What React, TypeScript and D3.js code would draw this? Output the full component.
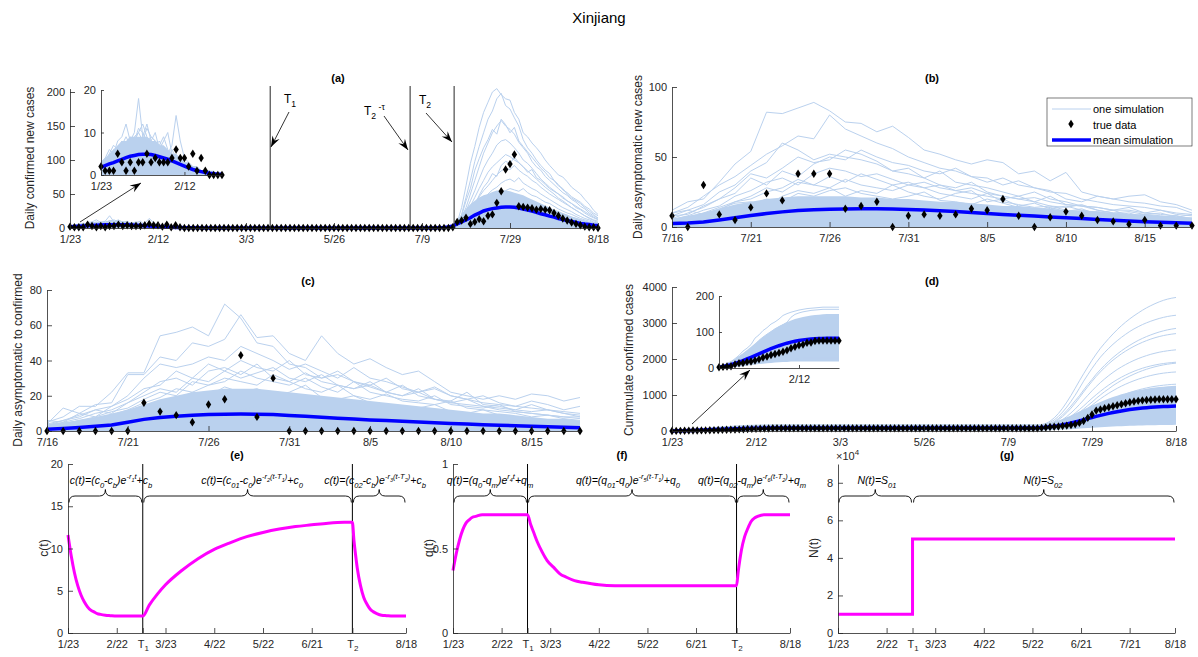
import React, { useEffect, useRef } from "react";
import * as d3 from "d3";

const W = 1198, H = 657;
const FONT = "'Liberation Sans', Arial, Helvetica, sans-serif";
const SIM = "#bad1ee";
const AXC = "#262626";
const MEANC = "#0000ff";
const MAG = "#ff00ff";

// ---------- panel (a)/(d): index axis ----------
const IDX_TICKS = [0, 20, 40, 60, 80, 100, 120];
const IDX_LABELS = ["1/23", "2/12", "3/3", "5/26", "7/9", "7/29", "8/18"];
const INSET_TICKS = [0, 20];
const INSET_A_LABELS = ["1/23", "2/12"];
const INSET_D_LABELS = ["", "2/12"];
const T1_IDX = 45.5, T2TAU_IDX = 77.3, T2_IDX = 87.3;

// quiet period (index 30..83), all values zero
const QUIET = [0,0,0,0,0,0,0,0,0,0,0,0,0,0,0,0,0,0,0,0,0,0,0,0,0,0,0,0,0,0,0,0,0,0,0,0,0,0,0,0,0,0,0,0,0,0,0,0,0,0,0,0,0,0];

const A_TRUE_EARLY = [2,1,1,1,5,3,1,3,1,3,3,5,3,4,3,3,3,4,6,4,4,2,5,1,4,1,0,0,0,0];
const A_TRUE_LATE = [0,0,0,1,9,11,15,6,9,13,10,18,20,37,54,86,94,108,32,31,30,29,27,28,27,26,22,18,14,11,8,6,4,2,1,1,0];
const A_MEAN_EARLY = [1.8,2.2,2.6,2.9,3.3,3.7,4.1,4.4,4.6,4.8,4.9,4.9,4.8,4.6,4.3,4.0,3.7,3.3,2.9,2.5,2.1,1.7,1.3,1.0,0.8,0.6,0.4,0.3,0.2,0.2];
const A_MEAN_LATE = [0.5,0.8,1.5,3,6,9,12,15,19,22,25,27,28.5,29.5,30.5,31,31,30.5,29.5,28,26.5,25,23,21,19.5,17.5,16,14,12.5,11,9.5,8,6.8,5.8,5,4.2,3.6];
const A_BAND_EARLY_UP = [3,4,5,6,7,8,8,9,9,9,9,9,8,8,7,7,6,5,5,4,3,3,2,2,1,1,1,1,0,0];
const A_BAND_EARLY_LO = [0,0,1,1,1,1,1,2,1,2,1,1,1,1,1,1,1,0,1,0,0,0,0,0,0,0,0,0,0,0];
const A_BAND_LATE_UP = [0,0,1,5,12,20,28,35,40,45,48,50,53,55,55,55,54,52,50,48,45,42,39,36,33,30,27,25,22,20,17,15,13,11,9,8,6];
const A_BAND_LATE_LO = [0,0,0,0,1,2,3,4,5,6,6,7,7,8,8,8,8,7,7,7,6,6,6,5,5,4,4,4,3,3,3,2,2,2,2,1,1];

const SIM_EARLY_1 = [3,4,6,5,8,9,12,8,10,18,9,12,8,10,6,8,10,5,4,3,3,2,2,1,1,1,1,0,0,0];
const SIM_EARLY_2 = [2,3,5,7,6,8,7,9,8,10,12,9,8,7,8,6,5,7,14,8,4,3,2,2,1,1,1,0,0,0];
const SIM_EARLY_3 = [2,3,4,5,6,7,6,8,9,10,8,11,9,8,7,6,5,6,4,3,3,2,2,1,1,1,0,0,0,0];
const SIM_EARLY_4 = [1,2,3,4,5,5,7,6,7,8,9,7,6,7,5,6,4,3,3,2,2,1,1,1,0,0,0,0,0,0];
const SIM_EARLY_5 = [1,1,2,3,4,4,5,5,6,5,6,7,5,5,6,4,4,3,3,2,2,1,1,1,0,0,0,0,0,0];
const SIM_EARLY_6 = [1,1,1,2,2,3,3,4,3,4,4,5,4,3,4,3,3,2,2,1,1,1,1,0,0,0,0,0,0,0];
const SIM_EARLY_7 = [0,1,1,1,1,2,1,2,2,2,1,2,2,1,2,1,1,1,1,1,0,1,0,0,0,0,0,0,0,0];
const SIM_EARLY_8 = [2,2,3,3,4,5,4,6,5,7,6,5,6,4,5,4,3,3,2,2,1,1,1,0,0,0,0,0,0,0];
const SIM_EARLY_9 = [1,2,2,3,3,4,5,4,5,6,5,6,5,6,4,4,3,3,2,2,2,1,1,1,0,0,0,0,0,0];
const SIM_EARLY_10 = [2,3,4,6,5,7,9,7,8,11,10,8,9,8,7,9,6,5,4,3,2,2,1,1,1,0,0,0,0,0];
const SIM_EARLY_11 = [1,2,3,3,4,6,5,6,7,6,8,7,6,7,6,5,5,4,3,3,2,1,1,1,1,0,0,0,0,0];

const SIM_LATE_1 = [0,0,0,1,8,30,62,95,120,148,170,185,200,205,196,190,188,170,160,140,134,125,118,110,100,92,85,78,75,68,60,55,50,42,35,26,20];
const SIM_LATE_2 = [0,0,0,2,6,20,45,70,98,120,140,160,172,190,198,180,175,162,150,130,118,110,100,92,85,80,70,62,58,50,44,40,36,30,25,20,14];
const SIM_LATE_3 = [0,0,1,2,5,15,30,50,70,90,110,125,140,150,158,150,145,138,126,118,110,98,90,85,76,70,64,58,52,48,42,38,32,28,22,18,15];
const SIM_LATE_4 = [0,0,0,1,4,12,25,40,55,72,88,100,110,122,128,130,125,118,110,100,95,88,80,72,66,60,55,50,44,40,36,30,27,22,18,15,12];
const SIM_LATE_5 = [0,0,0,1,3,10,20,32,45,58,70,82,90,96,102,108,105,100,96,90,84,78,72,66,60,55,50,44,40,35,30,26,22,18,15,12,10];
const SIM_LATE_6 = [0,0,0,1,3,8,16,26,36,46,55,62,70,78,84,88,86,92,85,80,76,70,66,60,55,50,46,42,38,34,30,26,22,18,14,11,8];
const SIM_LATE_7 = [0,0,0,1,2,6,12,20,28,35,42,50,56,60,66,70,72,68,74,66,62,58,55,50,46,42,38,34,30,27,24,20,17,14,12,9,7];
const SIM_LATE_8 = [0,0,0,1,2,5,10,16,22,28,34,40,44,48,52,55,58,56,54,58,52,48,46,42,38,36,32,28,25,22,20,17,14,12,10,8,6];
const SIM_LATE_9 = [0,0,0,0,1,4,8,12,16,20,24,28,32,35,38,40,42,44,42,40,43,38,36,34,30,28,26,23,20,18,16,14,12,10,8,6,5];
const SIM_LATE_10 = [0,0,0,1,5,18,40,58,85,102,118,130,145,138,160,152,140,148,128,120,112,104,96,88,82,74,70,64,56,52,46,42,38,32,28,22,18];
const SIM_LATE_11 = [0,0,0,0,2,7,15,24,34,48,60,68,80,76,92,98,95,104,96,90,82,86,74,70,64,58,54,50,46,40,36,32,28,24,20,16,13];

const SIM_EARLY = [SIM_EARLY_1, SIM_EARLY_2, SIM_EARLY_3, SIM_EARLY_4, SIM_EARLY_5, SIM_EARLY_6, SIM_EARLY_7, SIM_EARLY_8, SIM_EARLY_9, SIM_EARLY_10, SIM_EARLY_11];
const SIM_LATE = [SIM_LATE_1, SIM_LATE_2, SIM_LATE_3, SIM_LATE_4, SIM_LATE_5, SIM_LATE_6, SIM_LATE_7, SIM_LATE_8, SIM_LATE_9, SIM_LATE_10, SIM_LATE_11];

// ---------- panel (b) ----------
const BC_TICKS = [0, 5, 10, 15, 20, 25, 30];
const BC_LABELS = ["7/16", "7/21", "7/26", "7/31", "8/5", "8/10", "8/15"];
const B_TRUE = [8,0,30,9,5,14,24,19,38,38,38,13,15,18,0,8,9,8,9,13,12,20,8,0,7,11,8,5,4,2,5,1,1,1];
const B_MEAN = [2.5,2.8,3.6,5.0,6.6,8.2,9.6,10.8,11.7,12.3,12.7,12.9,13.0,13.0,12.8,12.5,12.1,11.6,11.0,10.3,9.6,9.0,8.4,7.8,7.2,6.6,6.0,5.4,4.8,4.3,3.8,3.4,3.0,2.6];
const B_BAND = [6,8,10,13,16,18,20,21,22,22,22,22,21,21,20,20,19,18,18,17,16,15,15,14,13,12,12,11,10,9,9,8,7,7];
const B_SIM_1 = [12,18,20,32,45,54,82,81,85,89,83,75,74,68,72,64,55,52,48,45,48,46,38,40,33,39,25,22,20,22,23,18,16,12];
const B_SIM_2 = [10,14,22,30,36,44,52,58,65,63,80,70,65,60,56,50,46,42,40,36,35,30,33,28,26,20,18,22,20,18,17,15,14,10];
const B_SIM_3 = [8,12,16,25,30,40,46,60,55,48,52,50,48,45,40,38,35,40,32,30,28,25,22,25,20,18,15,14,12,14,10,12,9,8];
const B_SIM_4 = [6,10,14,20,28,38,35,42,50,46,48,55,52,47,40,42,35,30,28,32,25,22,20,18,22,16,15,12,10,11,9,8,7,6];
const B_SIM_5 = [5,8,12,15,22,26,32,35,30,38,42,40,36,38,34,30,32,28,26,24,22,20,22,18,15,14,16,12,10,9,8,7,8,5];
const B_SIM_6 = [4,6,10,14,18,22,28,25,32,30,28,34,30,28,26,30,28,24,22,20,24,18,16,14,15,12,10,11,9,8,7,6,5,4];
const B_SIM_7 = [10,12,9,13,17,18,15,22,26,24,28,22,26,24,30,25,22,20,24,26,18,20,15,17,13,15,12,10,12,8,9,10,7,9];
const B_SIM_8 = [6,4,8,10,12,16,20,18,24,22,26,28,24,22,20,22,25,19,18,16,20,17,14,12,14,11,13,9,8,10,7,6,8,5];
const B_SIM_9 = [3,5,4,7,8,10,12,10,14,12,15,13,16,12,14,13,11,14,12,10,11,9,10,8,9,7,8,6,7,5,6,4,5,3];
const B_SIM_10 = [2,1,3,2,4,5,6,5,8,7,6,9,8,7,9,8,6,7,8,6,5,7,6,5,4,6,4,3,4,3,2,3,2,2];
const B_SIM_11 = [8,9,15,20,24,35,30,40,36,45,50,48,55,50,46,44,40,38,42,36,32,35,30,28,25,24,20,18,16,15,14,12,10,9];
const B_SIM_12 = [3,7,10,12,18,20,25,28,34,30,36,32,38,34,30,32,28,30,26,28,24,22,20,21,18,16,15,14,12,12,10,9,8,6];
const B_SIMS = [B_SIM_1, B_SIM_2, B_SIM_3, B_SIM_4, B_SIM_5, B_SIM_6, B_SIM_7, B_SIM_8, B_SIM_9, B_SIM_10, B_SIM_11, B_SIM_12];

// ---------- panel (c) ----------
const C_TRUE = [0,0,0,0,0,0,16,11,9,5,15,18,43,8,30,0,0,0,0,0,0,0,0,0,0,0,0,0,0,0,0,0,0,0];
const C_MEAN = [1.0,1.4,2.0,2.7,3.4,5.0,6.6,7.6,8.4,9.0,9.3,9.5,9.6,9.5,9.3,8.8,8.3,7.8,7.3,6.8,6.3,5.9,5.5,5.1,4.7,4.3,4.0,3.6,3.3,3.0,2.7,2.4,2.1,1.9];
const C_BAND = [4,5,6,8,10,12,15,18,20,22,23,24,24,24,23,22,21,20,19,18,17,16,15,14,13,12,11,10,10,9,8,7,7,6];
const C_SIM_1 = [5,8,14,14,22,33,33,54,56,59,54,72,64,50,48,38,36,30,32,28,25,22,26,20,18,17,22,15,14,12,15,12,10,8];
const C_SIM_2 = [4,13,10,15,16,32,32,42,40,50,48,52,66,53,54,44,40,54,44,38,41,36,32,34,28,22,20,18,20,18,21,20,17,19];
const C_SIM_3 = [3,6,9,12,14,20,30,38,36,38,42,40,48,44,40,35,38,34,30,36,30,28,25,22,24,20,18,16,15,14,13,12,11,10];
const C_SIM_4 = [2,5,7,10,12,16,22,28,30,26,34,36,32,38,30,28,33,28,26,24,28,22,20,24,18,16,15,14,12,11,10,9,8,7];
const C_SIM_5 = [3,4,6,8,11,13,18,22,20,28,26,30,28,26,32,28,24,22,26,20,18,21,17,16,15,17,13,12,11,10,8,9,7,6];
const C_SIM_6 = [1,3,5,6,8,10,14,16,18,22,20,25,22,24,20,22,26,19,18,20,16,15,14,13,15,11,10,12,9,8,7,6,5,4];
const C_SIM_7 = [2,2,4,5,7,9,12,14,12,16,18,15,20,18,17,19,16,14,15,13,12,14,11,10,9,11,8,7,6,7,5,4,5,3];
const C_SIM_8 = [1,2,3,4,5,6,8,9,10,12,11,13,12,14,12,11,13,10,11,9,10,8,9,7,8,6,7,5,6,4,5,3,4,2];
const C_SIM_9 = [6,5,10,8,14,18,24,26,34,30,38,34,40,36,34,40,32,30,34,28,26,30,24,22,25,20,18,20,16,14,17,15,12,14];
const C_SIM_10 = [4,6,8,12,10,16,20,24,22,30,28,34,30,33,36,30,28,32,26,24,26,22,20,22,18,16,18,14,13,12,11,12,10,9];
const C_SIM_11 = [2,4,6,7,9,12,16,19,24,22,26,28,34,30,28,26,30,25,22,28,22,20,18,17,20,15,14,13,15,11,10,9,8,8];
const C_SIMS = [C_SIM_1, C_SIM_2, C_SIM_3, C_SIM_4, C_SIM_5, C_SIM_6, C_SIM_7, C_SIM_8, C_SIM_9, C_SIM_10, C_SIM_11];

// ---------- panels (e)(f)(g) ----------
const DATE_TICKS_EF = [0, 30, 46, 60, 90, 120, 150, 175, 208];
const DATE_LABELS_EF = ["1/23", "2/22", "T1", "3/23", "4/22", "5/22", "6/21", "T2", "8/18"];
const DATE_TICKS_G = [0, 30, 46, 60, 90, 120, 150, 180, 208];
const DATE_LABELS_G = ["1/23", "2/22", "T1", "3/23", "4/22", "5/22", "6/21", "7/21", "8/18"];
const T1_DAY = 46, T2_DAY = 175;
const C_DAYS = [0,2,4,6,8,10,12,14,16,18,20,23,26,30,35,40,46,50,55,60,70,80,90,100,110,120,130,140,150,160,170,175,176,177,178,180,182,184,186,188,190,193,196,200,204,208];
const C_VALS = [11.6,9.1,7.1,5.6,4.5,3.7,3.1,2.7,2.5,2.3,2.2,2.1,2.05,2.0,2.0,2.0,2.0,3.3,4.6,5.7,7.4,8.8,9.9,10.7,11.4,11.9,12.3,12.6,12.8,13.0,13.1,13.1,10.9,9.2,7.7,5.6,4.2,3.4,2.8,2.5,2.3,2.1,2.05,2.0,2.0,2.0];
const Q_DAYS = [0,2,4,6,8,10,12,14,18,24,30,46,48,50,52,55,58,62,66,70,75,80,90,100,130,175,176,177,178,180,182,184,186,188,192,208];
const Q_VALS = [0.37,0.47,0.55,0.61,0.65,0.67,0.685,0.69,0.70,0.70,0.70,0.70,0.64,0.59,0.54,0.48,0.43,0.39,0.35,0.33,0.31,0.30,0.285,0.28,0.28,0.28,0.36,0.43,0.49,0.57,0.62,0.66,0.68,0.69,0.70,0.70];
const N_DAYS = [0, 46, 46, 208];
const N_VALS = [1, 1, 5, 5];
const E_TICKS = [0, 5, 10, 15, 20];
const F_TICKS = [0, 0.5, 1];
const G_TICKS = [0, 2, 4, 6, 8];

const E_FORMULAS = ["c(t)=(c_0-c_b)e^{-r_1t}+c_b", "c(t)=(c_{01}-c_0)e^{-r_2(t-T_1)}+c_0", "c(t)=(c_{02}-c_b)e^{-r_3(t-T_2)}+c_b"];
const F_FORMULAS = ["q(t)=(q_0-q_m)e^{r_4t}+q_m", "q(t)=(q_{01}-q_0)e^{-r_5(t-T_1)}+q_0", "q(t)=(q_{02}-q_m)e^{-r_6(t-T_2)}+q_m"];
const G_FORMULAS = ["N(t)=S_{01}", "N(t)=S_{02}"];

// ---------- helpers ----------
type Run = { text: string; shift: number; size: number };
function parseTex(s: string, shift = 0, size = 1): Run[] {
  const runs: Run[] = [];
  let i = 0, buf = "";
  const flush = () => { if (buf) { runs.push({ text: buf, shift, size }); buf = ""; } };
  while (i < s.length) {
    const c = s[i];
    if (c === "_" || c === "^") {
      flush();
      let arg = "";
      if (s[i + 1] === "{") {
        let depth = 0, j = i + 1;
        for (; j < s.length; j++) {
          if (s[j] === "{") depth++;
          else if (s[j] === "}") { depth--; if (depth === 0) break; }
        }
        arg = s.slice(i + 2, j); i = j + 1;
      } else { arg = s[i + 1]; i += 2; }
      const ns = shift + (c === "_" ? 3.5 : -5) * size;
      runs.push(...parseTex(arg, ns, size * 0.72));
    } else { buf += c; i++; }
  }
  flush();
  return runs;
}

function texText(g: any, x: number, y: number, s: string, fs: number, opts: any = {}) {
  const t = g.append("text").attr("x", x).attr("y", y).attr("font-size", fs)
    .attr("font-family", FONT).attr("fill", opts.fill || "#000")
    .attr("text-anchor", opts.anchor || "middle");
  if (opts.italic) t.attr("font-style", "italic");
  let prev = 0;
  parseTex(s).forEach((r) => {
    t.append("tspan").attr("dy", r.shift - prev).attr("font-size", fs * r.size).text(r.text);
    prev = r.shift;
  });
  return t;
}

function axes(g: any, x: any, y: any, xt: number[], xl: string[], yt: number[], yl: string[], opts: any = {}) {
  const tick = opts.tick ?? 5;
  const y0 = y.range()[0], x0 = x.range()[0];
  const ax = g.append("g").attr("transform", `translate(0,${y0})`)
    .call(d3.axisBottom(x).tickValues(xt).tickFormat((d: any, i: number) => xl[i]).tickSizeInner(-tick).tickSizeOuter(0).tickPadding(opts.xpad ?? 7));
  const ay = g.append("g").attr("transform", `translate(${x0},0)`)
    .call(d3.axisLeft(y).tickValues(yt).tickFormat((d: any, i: number) => yl[i]).tickSizeInner(-tick).tickSizeOuter(0).tickPadding(opts.ypad ?? 5));
  [ax, ay].forEach((a: any) => {
    a.attr("font-size", opts.fs ?? 11).attr("font-family", FONT);
    a.select(".domain").attr("stroke", AXC).attr("stroke-width", 0.8);
    a.selectAll(".tick line").attr("stroke", AXC).attr("stroke-width", 0.8);
    a.selectAll(".tick text").attr("fill", AXC);
  });
  ax.selectAll(".tick text").each(function (this: any) {
    const t = d3.select(this);
    const s = t.text();
    if (/^T\d$/.test(s)) {
      t.text("T");
      t.append("tspan").attr("dy", "0.45em").attr("font-size", 8).text(s[1]);
    }
  });
  return { ax, ay };
}

function arrow(g: any, x1: number, y1: number, x2: number, y2: number, L = 11, Wd = 8) {
  g.append("line").attr("x1", x1).attr("y1", y1).attr("x2", x2).attr("y2", y2).attr("stroke", "#000").attr("stroke-width", 0.8);
  const dx = x2 - x1, dy = y2 - y1, len = Math.hypot(dx, dy);
  const ux = dx / len, uy = dy / len, nx = -uy, ny = ux;
  const bx = x2 - ux * L, by = y2 - uy * L;
  const mx = x2 - ux * L * 0.65, my = y2 - uy * L * 0.65;
  g.append("path")
    .attr("d", `M${x2},${y2} L${bx + nx * Wd / 2},${by + ny * Wd / 2} L${mx},${my} L${bx - nx * Wd / 2},${by - ny * Wd / 2} Z`)
    .attr("fill", "#000");
}

function brace(g: any, x1: number, x2: number, y: number, h = 13) {
  const xm = (x1 + x2) / 2, q = Math.min(6, (x2 - x1) / 4);
  const d = `M${x1},${y + h / 2} Q${x1},${y} ${x1 + q},${y} L${xm - q},${y} Q${xm},${y} ${xm},${y - h / 2} Q${xm},${y} ${xm + q},${y} L${x2 - q},${y} Q${x2},${y} ${x2},${y + h / 2}`;
  g.append("path").attr("d", d).attr("fill", "none").attr("stroke", "#000").attr("stroke-width", 0.9);
}

const DIAMOND = "M0,-4.2 L2.7,0 L0,4.2 L-2.7,0 Z";
function diamonds(g: any, data: number[], x: any, y: any, offset = 0) {
  g.selectAll(null).data(data).enter().append("path")
    .attr("d", DIAMOND)
    .attr("transform", (d: number, i: number) => `translate(${x(i + offset)},${y(d)})`)
    .attr("fill", "#000");
}

function yLabel(g: any, x: number, y: number, s: string, fs = 12) {
  g.append("text").attr("transform", `translate(${x},${y}) rotate(-90)`).attr("text-anchor", "middle")
    .attr("font-size", fs).attr("font-family", FONT).attr("fill", AXC).text(s);
}
function title(g: any, x: number, y: number, s: string) {
  g.append("text").attr("x", x).attr("y", y).attr("text-anchor", "middle").attr("font-size", 11)
    .attr("font-weight", "bold").attr("font-family", FONT).attr("fill", "#000").text(s);
}

function fullSeries(early: number[], late: number[]) { return [...early, ...QUIET, ...late]; }

function simPanel(g: any, x: any, y: any, sims: number[][], bandUp: number[], bandLo: number[] | null, mean: number[], truth: number[], offset = 0) {
  const line = d3.line<number>().x((d, i) => x(i + offset)).y((d) => y(d));
  const area = d3.area<number>().x((d, i) => x(i + offset)).y0((d, i) => y(bandLo ? bandLo[i] : 0)).y1((d) => y(d));
  g.append("path").datum(bandUp).attr("d", area).attr("fill", SIM);
  sims.forEach((s) => g.append("path").datum(s).attr("d", line).attr("fill", "none").attr("stroke", SIM).attr("stroke-width", 1));
  g.append("path").datum(mean).attr("d", line).attr("fill", "none").attr("stroke", MEANC).attr("stroke-width", 3.5);
  diamonds(g, truth, x, y, offset);
}

function draw(svgEl: SVGSVGElement) {
  const svg = d3.select(svgEl);
  svg.selectAll("*").remove();
  svg.append("rect").attr("width", W).attr("height", H).attr("fill", "#fff");
  svg.append("text").attr("x", 599).attr("y", 23).attr("text-anchor", "middle").attr("font-size", 15)
    .attr("font-family", FONT).attr("fill", "#000").text("Xinjiang");

  // ================= (a) =================
  {
    const g = svg.append("g");
    const x = d3.scaleLinear().domain([0, 120]).range([70, 598]);
    const y = d3.scaleLinear().domain([0, 205]).range([228, 88.6]);
    const sims = SIM_EARLY.map((e, k) => fullSeries(e, SIM_LATE[k]));
    simPanel(g, x, y, sims, fullSeries(A_BAND_EARLY_UP, A_BAND_LATE_UP), null,
      fullSeries(A_MEAN_EARLY, A_MEAN_LATE), fullSeries(A_TRUE_EARLY, A_TRUE_LATE));
    [T1_IDX, T2TAU_IDX, T2_IDX].forEach((t) =>
      g.append("line").attr("x1", x(t)).attr("x2", x(t)).attr("y1", 86).attr("y2", 228).attr("stroke", AXC).attr("stroke-width", 1));
    axes(g, x, y, IDX_TICKS, IDX_LABELS, [0, 50, 100, 150, 200], ["0", "50", "100", "150", "200"]);
    yLabel(g, 34, 158, "Daily confirmed new cases");
    title(g, 338, 82, "(a)");
    texText(g, 284, 103, "T_1", 12, { anchor: "start" });
    arrow(g, 289, 112, 271, 147);
    texText(g, 364, 115, "T_2^{ -τ}", 12, { anchor: "start" });
    arrow(g, 384, 116, 408, 150);
    texText(g, 419, 104, "T_2", 12, { anchor: "start" });
    arrow(g, 426, 113, 452, 142);

    // inset
    const xi = d3.scaleLinear().domain([0, 29]).range([101, 222]);
    const yi = d3.scaleLinear().domain([0, 20]).range([175, 90]);
    simPanel(g, xi, yi, SIM_EARLY, A_BAND_EARLY_UP, null, A_MEAN_EARLY, A_TRUE_EARLY);
    axes(g, xi, yi, INSET_TICKS, INSET_A_LABELS, [0, 10, 20], ["0", "10", "20"], { tick: 3 });
    arrow(g, 80, 222, 141, 183);
  }

  // ================= (b) =================
  {
    const g = svg.append("g");
    const x = d3.scaleLinear().domain([0, 33]).range([672, 1192]);
    const y = d3.scaleLinear().domain([0, 100]).range([227, 87]);
    simPanel(g, x, y, B_SIMS, B_BAND, null, B_MEAN, B_TRUE);
    axes(g, x, y, BC_TICKS, BC_LABELS, [0, 50, 100], ["0", "50", "100"]);
    yLabel(g, 642, 157, "Daily asymptomatic new cases");
    title(g, 932, 82, "(b)");
    // legend
    const lg = g.append("g");
    lg.append("rect").attr("x", 1047).attr("y", 98).attr("width", 145).attr("height", 48).attr("fill", "#fff").attr("stroke", AXC).attr("stroke-width", 0.6);
    lg.append("line").attr("x1", 1052).attr("x2", 1091).attr("y1", 109).attr("y2", 109).attr("stroke", SIM).attr("stroke-width", 1);
    lg.append("path").attr("d", DIAMOND).attr("transform", "translate(1071,124)").attr("fill", "#000");
    lg.append("line").attr("x1", 1052).attr("x2", 1091).attr("y1", 140).attr("y2", 140).attr("stroke", MEANC).attr("stroke-width", 3.5);
    [["one simulation", 113], ["true data", 128.5], ["mean simulation", 144]].forEach(([s, yy]: any) =>
      lg.append("text").attr("x", 1093).attr("y", yy).attr("font-size", 11).attr("font-family", FONT).attr("fill", "#000").text(s));
  }

  // ================= (c) =================
  {
    const g = svg.append("g");
    const x = d3.scaleLinear().domain([0, 33]).range([47, 580]);
    const y = d3.scaleLinear().domain([0, 80]).range([431, 290]);
    simPanel(g, x, y, C_SIMS, C_BAND, null, C_MEAN, C_TRUE);
    axes(g, x, y, BC_TICKS, BC_LABELS, [0, 20, 40, 60, 80], ["0", "20", "40", "60", "80"]);
    yLabel(g, 22, 360, "Daily asymptomatic to confirmed");
    title(g, 308, 285, "(c)");
  }

  // ================= (d) =================
  {
    const g = svg.append("g");
    const x = d3.scaleLinear().domain([0, 120]).range([672, 1176]);
    const y = d3.scaleLinear().domain([0, 4000]).range([431, 287]);
    const sims = SIM_EARLY.map((e, k) => Array.from(d3.cumsum(fullSeries(e, SIM_LATE[k]))));
    const up = Array.from(d3.cumsum(fullSeries(A_BAND_EARLY_UP, A_BAND_LATE_UP)));
    const lo = Array.from(d3.cumsum(fullSeries(A_BAND_EARLY_LO, A_BAND_LATE_LO)));
    const mean = Array.from(d3.cumsum(fullSeries(A_MEAN_EARLY, A_MEAN_LATE)));
    const truth = Array.from(d3.cumsum(fullSeries(A_TRUE_EARLY, A_TRUE_LATE)));
    simPanel(g, x, y, sims, up, lo, mean, truth);
    axes(g, x, y, IDX_TICKS, IDX_LABELS, [0, 1000, 2000, 3000, 4000], ["0", "1000", "2000", "3000", "4000"]);
    yLabel(g, 633, 360, "Cummulate confirmed cases");
    title(g, 932, 285, "(d)");
    // inset
    const xi = d3.scaleLinear().domain([0, 30]).range([719, 839]);
    const yi = d3.scaleLinear().domain([0, 200]).range([368, 296]);
    const n = 31;
    simPanel(g, xi, yi, sims.map((s) => s.slice(0, n)), up.slice(0, n), lo.slice(0, n), mean.slice(0, n), truth.slice(0, n));
    axes(g, xi, yi, INSET_TICKS, INSET_D_LABELS, [0, 100, 200], ["0", "100", "200"], { tick: 3 });
    arrow(g, 692, 424, 750, 370);
  }

  // ================= (e)(f)(g) =================
  const bottomPanel = (x0: number, x1: number, days: number[], vals: number[], yDom: number[], yt: number[], yl: string[],
    xt: number[], xlab: string[], vlines: number[], formulas: string[], centers: number[], bounds: number[], lbl: string, ttl: string, tx: number) => {
    const g = svg.append("g");
    const x = d3.scaleLinear().domain([0, 208]).range([x0, x1]);
    const y = d3.scaleLinear().domain(yDom).range([633, 464]);
    vlines.forEach((t) => g.append("line").attr("x1", x(t)).attr("x2", x(t)).attr("y1", 464).attr("y2", 633).attr("stroke", "#000").attr("stroke-width", 1));
    const pts = days.map((d, i) => [d, vals[i]] as [number, number]);
    const line = d3.line<[number, number]>().x((d) => x(d[0])).y((d) => y(d[1])).curve(lbl === "N(t)" ? d3.curveLinear : d3.curveMonotoneX);
    g.append("path").datum(pts).attr("d", line).attr("fill", "none").attr("stroke", MAG).attr("stroke-width", 3);
    axes(g, x, y, xt, xlab, yt, yl);
    yLabel(g, x0 - 20, 548, lbl);
    title(g, tx, 459, ttl);
    for (let k = 0; k < formulas.length; k++) {
      const a = x(bounds[k]), b = x(bounds[k + 1]);
      brace(g, a + 1, b - 1, 496, 13);
      texText(g, centers[k], 484, formulas[k], 10.5, { italic: true });
    }
    return g;
  };
  bottomPanel(68, 406, C_DAYS, C_VALS, [0, 20], E_TICKS, E_TICKS.map(String), DATE_TICKS_EF, DATE_LABELS_EF,
    [T1_DAY, T2_DAY], E_FORMULAS, [111, 252, 375], [0, T1_DAY, T2_DAY, 208], "c(t)", "(e)", 237);
  bottomPanel(453, 790, Q_DAYS, Q_VALS, [0, 1], F_TICKS, ["0", "0.5", "1"], DATE_TICKS_EF, DATE_LABELS_EF,
    [T1_DAY, T2_DAY], F_FORMULAS, [490, 628, 752], [0, T1_DAY, T2_DAY, 208], "q(t)", "(f)", 622);
  const gg = bottomPanel(838, 1175, N_DAYS, N_VALS, [0, 9], G_TICKS, G_TICKS.map(String), DATE_TICKS_G, DATE_LABELS_G,
    [], G_FORMULAS, [877, 1043], [0, T1_DAY, 208], "N(t)", "(g)", 1007);
  texText(gg, 836, 460, "×10^4", 11, { anchor: "start", fill: AXC });
}

export default function App() {
  const ref = useRef<SVGSVGElement>(null);
  useEffect(() => { if (ref.current) draw(ref.current); }, []);
  return (
    <svg ref={ref} width={W} height={H} style={{ position: "absolute", left: 0, top: 0, display: "block" }} />
  );
}
